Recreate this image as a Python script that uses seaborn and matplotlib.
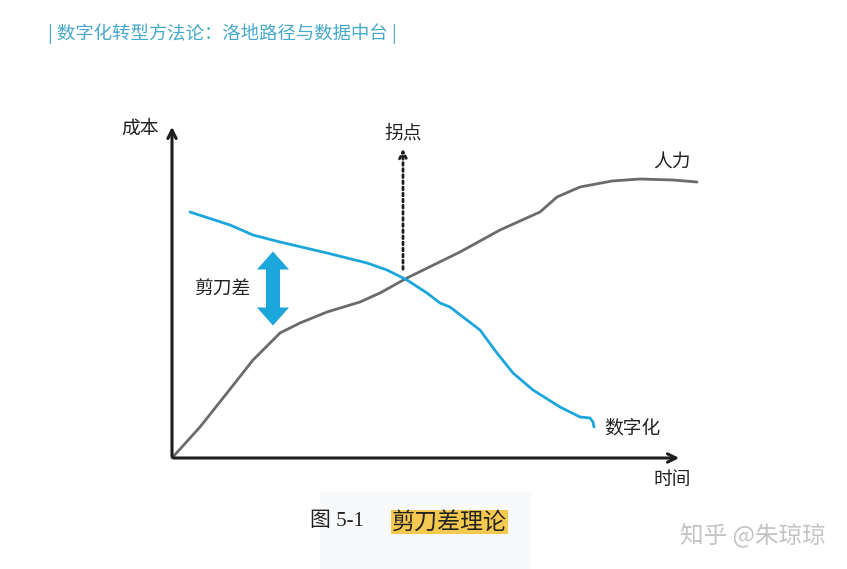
import matplotlib
matplotlib.use('Agg')
import matplotlib.pyplot as plt
import matplotlib.patches as mpatches
import seaborn as sns
import pandas as pd

# curve values (time vs cost, arbitrary units)
time_human = [0, 28, 55, 81, 108, 128, 155, 188, 208, 235, 288, 328, 368, 385, 408, 440, 468, 501, 525]
cost_human = [0, 31, 65, 98, 125, 135, 146, 156, 165, 180, 206, 228, 246, 261, 271, 277, 279, 278, 276]

time_digital = [18, 58, 81, 108, 155, 195, 215, 235, 255, 268, 278, 291, 308, 325, 341, 361, 388, 408, 418, 421, 422]
cost_digital = [246, 233, 223, 216, 205, 195, 188, 178, 165, 155, 151, 141, 128, 105, 85, 68, 51, 41, 40, 36, 31]

header = '| 数字化转型方法论：洛地路径与数据中台 |'
caption_num = '图 5-1'
caption_title = '剪刀差理论'
watermark = '知乎 @朱琼琼'

blue = '#1ba6dc'
grey = '#6b6b6b'

sns.set_style('white')
plt.rcParams['font.family'] = ['Noto Sans CJK SC', 'DejaVu Sans']

fig = plt.figure(figsize=(8.47, 5.69), dpi=100)
ax = fig.add_axes([0, 0, 1, 1])

df_h = pd.DataFrame({'time': time_human, 'cost': cost_human})
df_d = pd.DataFrame({'time': time_digital, 'cost': cost_digital})
sns.lineplot(data=df_h, x='time', y='cost', sort=False, color=grey, lw=2, ax=ax)
sns.lineplot(data=df_d, x='time', y='cost', sort=False, color=blue, lw=2, ax=ax)

ax.set_xlim(-172, 675)
ax.set_ylim(-111, 458)
ax.axis('off')

# axes arrows
ax.annotate('', xy=(0, 334), xytext=(0, -1),
            arrowprops=dict(arrowstyle='->,head_length=0.6,head_width=0.3', color='#1e1e1e', lw=2.2))
ax.annotate('', xy=(510, 0), xytext=(-1, 0),
            arrowprops=dict(arrowstyle='->,head_length=0.6,head_width=0.3', color='#1e1e1e', lw=2.2))

# inflection point dotted arrow
ax.annotate('', xy=(231, 312), xytext=(231, 186),
            arrowprops=dict(arrowstyle='->,head_length=0.5,head_width=0.25', color='#1e1e1e',
                            lw=2, linestyle=(0, (1, 1.2))))

# scissors gap double arrow
cx, cy = 101, 169.5
for d in (1, -1):
    ax.add_patch(mpatches.FancyArrow(cx, cy - d * 3, 0, d * 40, width=14, head_width=32, head_length=18,
                                     length_includes_head=True, color=blue, lw=0))

tk = dict(fontsize=13.5, color='#222222', ha='center', va='center')
ax.text(-32, 330, '成本', **tk)
ax.text(500, -22, '时间', **tk)
ax.text(500, 296, '人力', **tk)
ax.text(460, 30, '数字化', **tk)
ax.text(231, 325, '拐点', **tk)
ax.text(50, 169, '剪刀差', **tk)

# page decorations
fig.patches.append(mpatches.Rectangle((320 / 847, 0), 210 / 847, 77 / 569, transform=fig.transFigure,
                                      color='#f8f9fb', zorder=0))
fig.text(48 / 847, 1 - 34 / 569, header, fontsize=13.2, color='#45a9cc', ha='left', va='center')
fig.text(310 / 847, 1 - 522 / 569, caption_num, fontsize=15, color='#222222', ha='left', va='center',
         family=['Liberation Serif', 'Noto Sans CJK SC'])
fig.text(392 / 847, 1 - 522 / 569, caption_title, fontsize=16.6, color='#222222', ha='left', va='center',
         bbox=dict(facecolor='#f5c94f', edgecolor='none', pad=0.5))
fig.text(826 / 847, 1 - 535 / 569, watermark, fontsize=17, color='#c4c4c4', ha='right', va='center')

fig.savefig('out.png', dpi=100)
